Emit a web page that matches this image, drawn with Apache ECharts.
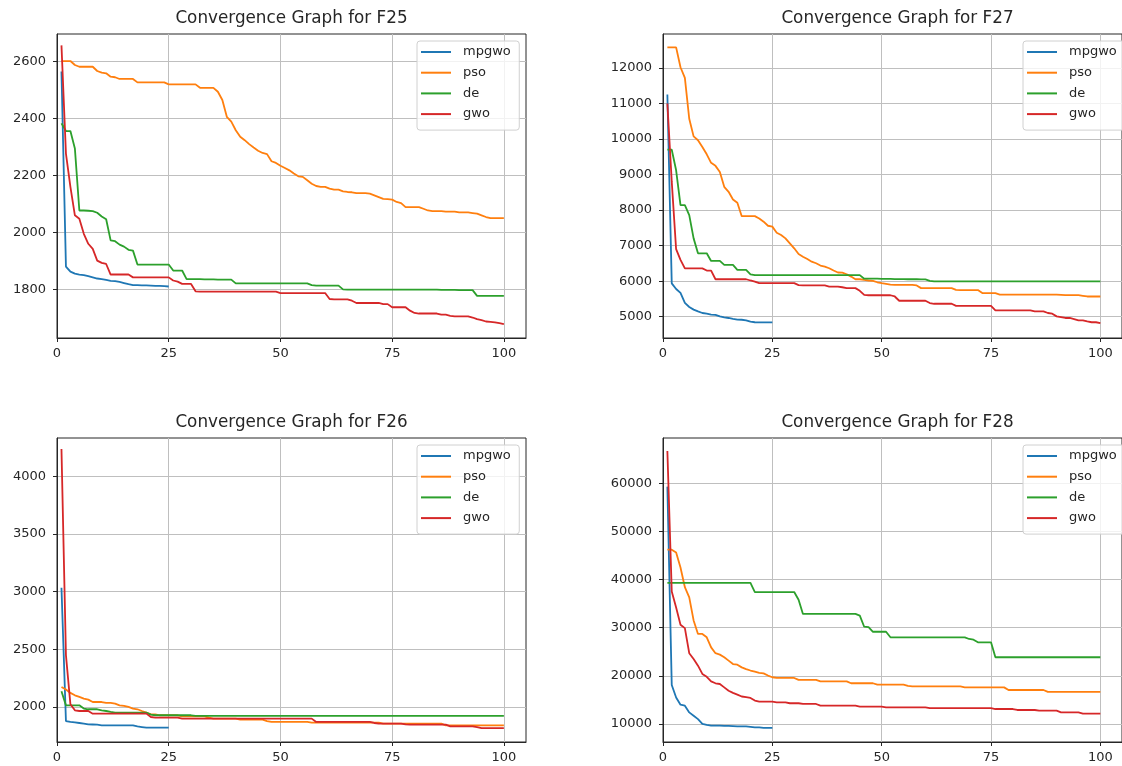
<!DOCTYPE html>
<html>
<head>
<meta charset="utf-8">
<script src="https://cdn.jsdelivr.net/npm/echarts@6/dist/echarts.min.js"></script>
<style>
  html, body { margin: 0; padding: 0; background: #ffffff; }
  #chart { width: 1122px; height: 766px; }
</style>
</head>
<body>
<div id="chart"></div>
<script>
// ---- data: best fitness per iteration (iteration = index + 1) ----
const seriesNames = ['mpgwo', 'pso', 'de', 'gwo'];
const xTicks = [0, 25, 50, 75, 100];

// F25
const f25Ticks = [1800, 2000, 2200, 2400, 2600];
const f25Mpgwo = [2565, 1880, 1862, 1855, 1852, 1850, 1846, 1842, 1838, 1836, 1833, 1830, 1829, 1826, 1822, 1818, 1815, 1815, 1814, 1814, 1813, 1812, 1812, 1811, 1810];
const f25Pso = [2602, 2602, 2602, 2588, 2582, 2582, 2582, 2582, 2567, 2561,
  2559, 2547, 2545, 2539, 2539, 2539, 2539, 2527, 2527, 2527,
  2527, 2527, 2527, 2527, 2520, 2520, 2520, 2520, 2520, 2520,
  2520, 2508, 2508, 2508, 2508, 2494, 2465, 2406, 2389, 2359,
  2336, 2324, 2310, 2298, 2287, 2279, 2275, 2250, 2244, 2234,
  2226, 2218, 2207, 2197, 2195, 2183, 2171, 2163, 2160, 2160,
  2154, 2150, 2150, 2144, 2142, 2141, 2138, 2138, 2138, 2136,
  2130, 2124, 2118, 2117, 2115, 2107, 2103, 2089, 2089, 2089,
  2089, 2083, 2077, 2075, 2075, 2075, 2073, 2073, 2073, 2070,
  2070, 2070, 2068, 2066, 2060, 2054, 2050, 2050, 2050, 2050];
const f25De = [2383, 2356, 2356, 2295, 2077, 2077, 2076, 2075, 2069, 2056,
  2046, 1972, 1969, 1957, 1950, 1939, 1936, 1887, 1887, 1887,
  1887, 1887, 1887, 1887, 1887, 1866, 1866, 1866, 1836, 1836,
  1836, 1836, 1835, 1835, 1835, 1834, 1834, 1834, 1834, 1821,
  1821, 1821, 1821, 1821, 1821, 1821, 1821, 1821, 1821, 1821,
  1821, 1821, 1821, 1821, 1821, 1821, 1815, 1813, 1813, 1813,
  1813, 1813, 1813, 1800, 1799, 1799, 1799, 1799, 1799, 1799,
  1799, 1799, 1799, 1799, 1799, 1799, 1799, 1799, 1799, 1799,
  1799, 1799, 1799, 1799, 1799, 1798, 1798, 1798, 1798, 1797,
  1797, 1797, 1797, 1777, 1777, 1777, 1777, 1777, 1777, 1777];
const f25Gwo = [2657, 2277, 2160, 2060, 2048, 1995, 1960, 1942, 1901, 1893,
  1889, 1852, 1852, 1852, 1852, 1852, 1842, 1842, 1842, 1842,
  1842, 1842, 1842, 1842, 1842, 1831, 1827, 1819, 1819, 1819,
  1793, 1792, 1792, 1792, 1792, 1792, 1792, 1792, 1792, 1792,
  1792, 1792, 1792, 1792, 1792, 1792, 1792, 1792, 1792, 1787,
  1787, 1787, 1787, 1787, 1787, 1787, 1787, 1787, 1787, 1787,
  1766, 1765, 1765, 1765, 1765, 1760, 1752, 1752, 1752, 1752,
  1752, 1752, 1748, 1748, 1737, 1737, 1737, 1737, 1725, 1717,
  1715, 1715, 1715, 1715, 1715, 1711, 1711, 1707, 1705, 1705,
  1705, 1705, 1701, 1695, 1692, 1687, 1686, 1684, 1681, 1678];

// F27
const f27Ticks = [5000, 6000, 7000, 8000, 9000, 10000, 11000, 12000];
const f27Mpgwo = [11250, 5940, 5780, 5670, 5390, 5275, 5200, 5150, 5105, 5085, 5060, 5055, 5010, 4985, 4965, 4940, 4920, 4915, 4900, 4860, 4845, 4842, 4840, 4840, 4840];
const f27Pso = [12580, 12580, 12580, 12020, 11720, 10570, 10075, 9965, 9775, 9570,
  9330, 9245, 9075, 8655, 8515, 8300, 8205, 7830, 7830, 7830,
  7830, 7765, 7675, 7560, 7535, 7365, 7300, 7205, 7065, 6925,
  6765, 6690, 6625, 6550, 6505, 6440, 6410, 6365, 6300, 6245,
  6240, 6195, 6130, 6055, 6055, 6035, 6020, 6010, 5970, 5945,
  5925, 5905, 5895, 5895, 5895, 5895, 5895, 5880, 5805, 5805,
  5805, 5805, 5805, 5805, 5805, 5805, 5755, 5750, 5750, 5750,
  5750, 5750, 5665, 5665, 5665, 5665, 5625, 5625, 5625, 5625,
  5625, 5625, 5625, 5625, 5625, 5625, 5625, 5625, 5625, 5625,
  5617, 5607, 5607, 5607, 5607, 5590, 5570, 5570, 5570, 5570];
const f27De = [9700, 9700, 9120, 8140, 8140, 7860, 7205, 6785, 6785, 6785,
  6570, 6570, 6570, 6460, 6460, 6460, 6320, 6320, 6320, 6195,
  6170, 6170, 6170, 6170, 6170, 6170, 6170, 6170, 6170, 6170,
  6170, 6170, 6170, 6170, 6170, 6170, 6170, 6170, 6170, 6170,
  6170, 6170, 6170, 6170, 6170, 6070, 6070, 6070, 6070, 6065,
  6065, 6065, 6060, 6060, 6060, 6055, 6055, 6055, 6050, 6050,
  6010, 5995, 5995, 5995, 5995, 5995, 5995, 5995, 5995, 5995,
  5995, 5995, 5995, 5995, 5995, 5995, 5995, 5995, 5995, 5995,
  5995, 5995, 5995, 5995, 5995, 5995, 5995, 5995, 5995, 5995,
  5995, 5995, 5995, 5995, 5995, 5995, 5995, 5995, 5995, 5995];
const f27Gwo = [11000, 8800, 6900, 6600, 6360, 6360, 6360, 6360, 6360, 6300,
  6300, 6055, 6055, 6055, 6055, 6055, 6055, 6055, 6055, 6020,
  5990, 5945, 5945, 5945, 5945, 5945, 5945, 5945, 5945, 5945,
  5890, 5880, 5880, 5880, 5880, 5880, 5880, 5850, 5850, 5850,
  5830, 5805, 5805, 5805, 5730, 5615, 5605, 5605, 5605, 5605,
  5605, 5605, 5570, 5450, 5450, 5450, 5450, 5450, 5450, 5450,
  5385, 5365, 5365, 5365, 5365, 5365, 5305, 5305, 5305, 5305,
  5305, 5305, 5305, 5305, 5305, 5180, 5180, 5180, 5180, 5180,
  5180, 5180, 5180, 5180, 5150, 5150, 5150, 5105, 5085, 5010,
  4990, 4965, 4965, 4935, 4900, 4900, 4870, 4845, 4845, 4820];

// F26
const f26Ticks = [2000, 2500, 3000, 3500, 4000];
const f26Mpgwo = [3035, 1878, 1870, 1866, 1861, 1855, 1849, 1848, 1846, 1841, 1841, 1841, 1841, 1841, 1841, 1841, 1841, 1832, 1826, 1820, 1820, 1820, 1820, 1820, 1820];
const f26Pso = [2174, 2151, 2122, 2101, 2087, 2072, 2064, 2043, 2043, 2043,
  2035, 2035, 2029, 2014, 2009, 2000, 1986, 1980, 1965, 1951,
  1936, 1936, 1928, 1928, 1928, 1928, 1928, 1919, 1919, 1919,
  1919, 1919, 1919, 1907, 1899, 1899, 1899, 1899, 1899, 1899,
  1890, 1890, 1890, 1890, 1890, 1890, 1878, 1870, 1870, 1870,
  1870, 1870, 1870, 1870, 1870, 1870, 1864, 1864, 1864, 1864,
  1864, 1864, 1864, 1864, 1864, 1864, 1864, 1864, 1864, 1864,
  1864, 1864, 1855, 1855, 1855, 1855, 1855, 1855, 1855, 1855,
  1855, 1855, 1855, 1855, 1855, 1855, 1841, 1841, 1841, 1841,
  1841, 1841, 1841, 1841, 1841, 1841, 1841, 1841, 1841, 1841];
const f26De = [2136, 2014, 2014, 2014, 2014, 1986, 1980, 1980, 1980, 1971,
  1965, 1957, 1951, 1951, 1951, 1951, 1951, 1951, 1951, 1951,
  1933, 1928, 1928, 1928, 1928, 1928, 1928, 1928, 1928, 1928,
  1922, 1922, 1922, 1922, 1922, 1922, 1922, 1922, 1922, 1922,
  1922, 1922, 1922, 1922, 1922, 1922, 1922, 1922, 1922, 1922,
  1922, 1922, 1922, 1922, 1922, 1922, 1922, 1922, 1922, 1922,
  1922, 1922, 1922, 1922, 1922, 1922, 1922, 1922, 1922, 1922,
  1922, 1922, 1922, 1922, 1922, 1922, 1922, 1922, 1922, 1922,
  1922, 1922, 1922, 1922, 1922, 1922, 1922, 1922, 1922, 1922,
  1922, 1922, 1922, 1922, 1922, 1922, 1922, 1922, 1922, 1922];
const f26Gwo = [4238, 2450, 2023, 1971, 1965, 1965, 1965, 1942, 1942, 1942,
  1942, 1942, 1942, 1942, 1942, 1942, 1942, 1942, 1942, 1942,
  1913, 1907, 1907, 1907, 1907, 1907, 1907, 1899, 1899, 1899,
  1899, 1899, 1899, 1899, 1899, 1899, 1899, 1899, 1899, 1899,
  1899, 1899, 1899, 1899, 1899, 1899, 1899, 1899, 1899, 1899,
  1899, 1899, 1899, 1899, 1899, 1899, 1899, 1870, 1870, 1870,
  1870, 1870, 1870, 1870, 1870, 1870, 1870, 1870, 1870, 1870,
  1861, 1855, 1855, 1855, 1855, 1855, 1855, 1849, 1846, 1846,
  1846, 1846, 1846, 1846, 1846, 1846, 1846, 1832, 1832, 1832,
  1832, 1832, 1832, 1826, 1817, 1817, 1817, 1817, 1817, 1817];

// F28
const f28Ticks = [10000, 20000, 30000, 40000, 50000, 60000];
const f28Mpgwo = [59300, 18100, 15500, 14000, 13800, 12400, 11700, 11000, 10000, 9800, 9650, 9650, 9650, 9600, 9600, 9550, 9500, 9500, 9500, 9400, 9300, 9300, 9200, 9200, 9200];
const f28Pso = [46200, 46200, 45600, 42500, 38400, 36300, 31500, 28700, 28700, 28000,
  25900, 24700, 24400, 23850, 23150, 22450, 22300, 21750, 21400, 21100,
  20850, 20600, 20500, 20050, 19700, 19550, 19550, 19550, 19550, 19550,
  19150, 19150, 19150, 19150, 19150, 18850, 18850, 18850, 18850, 18850,
  18850, 18850, 18450, 18450, 18450, 18450, 18450, 18450, 18150, 18150,
  18150, 18150, 18150, 18150, 18150, 17900, 17800, 17800, 17800, 17800,
  17800, 17800, 17800, 17800, 17800, 17800, 17800, 17800, 17600, 17600,
  17600, 17600, 17600, 17600, 17600, 17600, 17600, 17600, 17050, 17050,
  17050, 17050, 17050, 17050, 17050, 17050, 17050, 16650, 16650, 16650,
  16650, 16650, 16650, 16650, 16650, 16650, 16650, 16650, 16650, 16650];
const f28De = [39300, 39300, 39300, 39300, 39300, 39300, 39300, 39300, 39300, 39300,
  39300, 39300, 39300, 39300, 39300, 39300, 39300, 39300, 39300, 39300,
  37400, 37400, 37400, 37400, 37400, 37400, 37400, 37400, 37400, 37400,
  35800, 32850, 32850, 32850, 32850, 32850, 32850, 32850, 32850, 32850,
  32850, 32850, 32850, 32850, 32500, 30200, 30100, 29150, 29150, 29150,
  29150, 28000, 28000, 28000, 28000, 28000, 28000, 28000, 28000, 28000,
  28000, 28000, 28000, 28000, 28000, 28000, 28000, 28000, 28000, 27650,
  27500, 26950, 26950, 26950, 26950, 23850, 23850, 23850, 23850, 23850,
  23850, 23850, 23850, 23850, 23850, 23850, 23850, 23850, 23850, 23850,
  23850, 23850, 23850, 23850, 23850, 23850, 23850, 23850, 23850, 23850];
const f28Gwo = [66700, 37500, 34200, 30600, 29900, 24700, 23500, 22100, 20400, 19800,
  18850, 18450, 18300, 17600, 16900, 16450, 16100, 15700, 15550, 15400,
  14850, 14650, 14650, 14650, 14650, 14500, 14500, 14500, 14300, 14300,
  14300, 14150, 14150, 14150, 14150, 13800, 13800, 13800, 13800, 13800,
  13800, 13800, 13800, 13800, 13600, 13600, 13600, 13600, 13600, 13600,
  13450, 13450, 13450, 13450, 13450, 13450, 13450, 13450, 13450, 13450,
  13300, 13300, 13300, 13300, 13300, 13300, 13300, 13300, 13300, 13300,
  13300, 13300, 13300, 13300, 13300, 13100, 13100, 13100, 13100, 13100,
  12900, 12900, 12900, 12900, 12900, 12750, 12750, 12750, 12750, 12750,
  12400, 12400, 12400, 12400, 12400, 12150, 12150, 12150, 12150, 12150];

const panelTitles = ['Convergence Graph for F25', 'Convergence Graph for F27',
                     'Convergence Graph for F26', 'Convergence Graph for F28'];
const panelSeries = [
  [f25Mpgwo, f25Pso, f25De, f25Gwo],
  [f27Mpgwo, f27Pso, f27De, f27Gwo],
  [f26Mpgwo, f26Pso, f26De, f26Gwo],
  [f28Mpgwo, f28Pso, f28De, f28Gwo]
];
const panelTicks = [f25Ticks, f27Ticks, f26Ticks, f28Ticks];
const panelYRange = [[1629, 2697], [4402, 12955], [1696, 4334], [6250, 69400]];
const xRange = [0, 104.95];

// ---- layout & style ----
const FONT = 'DejaVu Sans';
const INK = '#262626';
const colors = ['#1f77b4', '#ff7f0e', '#2ca02c', '#d62728'];
const plotW = 469, plotH = 304;
const plotPos = [[57, 34], [663, 34], [57, 438], [663, 438]];

const grids = [], xAxes = [], yAxes = [], series = [], titles = [], legends = [];
const plainNumber = v => String(v);

plotPos.forEach(([left, top], i) => {
  grids.push({
    left: left, top: top, width: plotW, height: plotH,
    show: true, borderColor: INK, borderWidth: 1, backgroundColor: 'transparent'
  });
  const gridLine = { show: true, lineStyle: { color: '#bfbfbf', width: 1 } };
  xAxes.push({
    type: 'value', gridIndex: i, min: xRange[0], max: xRange[1],
    axisLine: { show: true, onZero: false, lineStyle: { color: INK, width: 1 } },
    axisTick: { show: true, customValues: xTicks, length: 4, lineStyle: { color: INK } },
    axisLabel: { customValues: xTicks, formatter: plainNumber, color: INK, fontSize: 13, fontFamily: FONT, margin: 9 },
    splitLine: gridLine
  });
  yAxes.push({
    type: 'value', gridIndex: i, min: panelYRange[i][0], max: panelYRange[i][1],
    axisLine: { show: true, onZero: false, lineStyle: { color: INK, width: 1 } },
    axisTick: { show: true, customValues: panelTicks[i], length: 4, lineStyle: { color: INK } },
    axisLabel: { customValues: panelTicks[i], formatter: plainNumber, color: INK, fontSize: 13, fontFamily: FONT, margin: 11 },
    splitLine: gridLine
  });
  panelSeries[i].forEach((vals, k) => {
    series.push({
      type: 'line', name: seriesNames[k], xAxisIndex: i, yAxisIndex: i,
      data: vals.map((v, j) => [j + 1, v]),
      symbol: 'none', smooth: false,
      lineStyle: { width: 1.8, color: colors[k] },
      itemStyle: { color: colors[k] },
      emphasis: { disabled: true }
    });
  });
  titles.push({
    text: panelTitles[i], left: left + plotW / 2, top: top - 24,
    textAlign: 'center', padding: 0,
    textStyle: { fontSize: 16.8, fontWeight: 'normal', color: INK, fontFamily: FONT }
  });
  legends.push({
    data: seriesNames, orient: 'vertical',
    left: left + plotW - 109, top: top + 7,
    icon: 'rect', itemWidth: 30, itemHeight: 2, itemGap: 6.7,
    selectedMode: false,
    backgroundColor: 'rgba(255,255,255,0.8)', borderColor: '#d0d0d0', borderWidth: 1, borderRadius: 3,
    padding: [4, 8.5, 9, 4],
    textStyle: { fontSize: 13, lineHeight: 14, color: INK, fontFamily: FONT, padding: [0, 0, 0, 7] }
  });
});

const chart = echarts.init(document.getElementById('chart'), null, { renderer: 'canvas' });
chart.setOption({
  animation: false,
  backgroundColor: '#ffffff',
  color: colors,
  title: titles,
  legend: legends,
  grid: grids,
  xAxis: xAxes,
  yAxis: yAxes,
  series: series
});
</script>
</body>
</html>
